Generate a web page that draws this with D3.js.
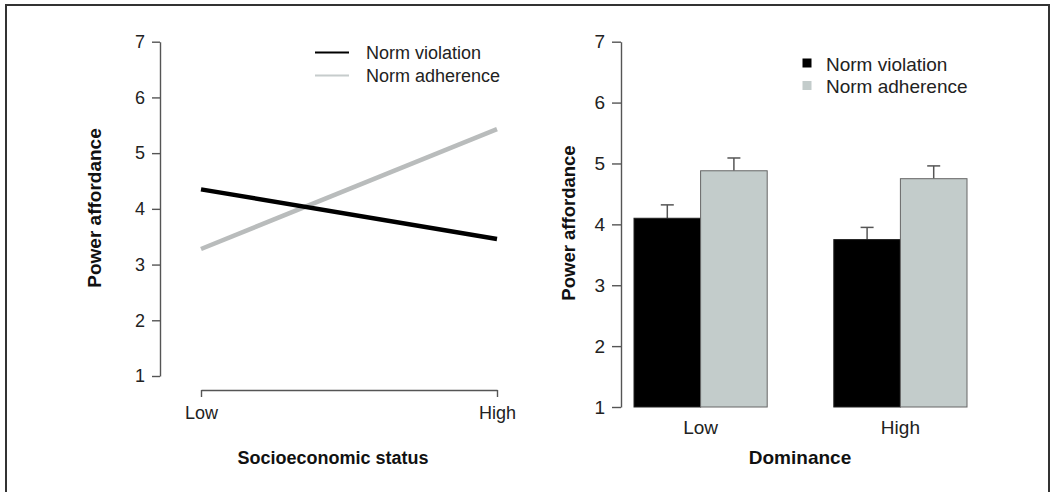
<!DOCTYPE html>
<html>
<head>
<meta charset="utf-8">
<script src="https://cdn.jsdelivr.net/npm/d3@7"></script>
<style>
  html, body { margin: 0; padding: 0; background: #fff; }
  svg { display: block; font-family: "Liberation Sans", Arial, Helvetica, sans-serif; }
</style>
</head>
<body>
<svg id="chart" width="1050" height="492"></svg>
<script>
// ---- data ----
const series = ["Norm violation", "Norm adherence"];
const sesLevels = ["Low", "High"];
const lineViolation = [4.35, 3.46];
const lineAdherence = [3.28, 5.43];
const domLevels = ["Low", "High"];
const barViolation = [4.10, 3.75];
const barAdherence = [4.88, 4.75];
const seViolation = [0.22, 0.20];
const seAdherence = [0.21, 0.21];
const yTicks = [1, 2, 3, 4, 5, 6, 7];
const yTitle = "Power affordance";
const xTitleLeft = "Socioeconomic status";
const xTitleRight = "Dominance";

const svg = d3.select("#chart");
const axisCol = "#555";

// frame
svg.append("rect").attr("x", 6).attr("y", 5).attr("width", 1043).attr("height", 500)
  .attr("fill", "none").attr("stroke", "#333").attr("stroke-width", 2);

function styleAxis(g, fs) {
  g.selectAll("path.domain").attr("stroke", axisCol).attr("stroke-width", 1.4);
  g.selectAll(".tick line").attr("stroke", axisCol).attr("stroke-width", 1.4);
  g.selectAll(".tick text").attr("fill", "#222").attr("font-size", fs)
    .attr("font-family", "Liberation Sans, Arial, sans-serif");
}

// ================= LEFT PANEL =================
const yL = d3.scaleLinear().domain([1, 7]).range([376, 41.7]);
const xL = d3.scalePoint().domain(sesLevels).range([201, 497]);

const gyL = svg.append("g").attr("transform", "translate(160,0)")
  .call(d3.axisLeft(yL).tickValues(yTicks).tickSize(8).tickSizeOuter(0).tickPadding(7).tickFormat(d3.format("d")));
styleAxis(gyL, 18);

const gxL = svg.append("g").attr("transform", "translate(0,390)")
  .call(d3.axisBottom(xL).tickSize(7).tickSizeOuter(0).tickPadding(9));
styleAxis(gxL, 18);
gxL.selectAll(".tick text").attr("dy", "0.71em");

const lineGen = d3.line().x((d, i) => xL(sesLevels[i])).y(d => yL(d));
svg.append("path").datum(lineAdherence).attr("d", lineGen)
  .attr("fill", "none").attr("stroke", "#b9bcbc").attr("stroke-width", 4.5);
svg.append("path").datum(lineViolation).attr("d", lineGen)
  .attr("fill", "none").attr("stroke", "#000").attr("stroke-width", 4.5);

// legend left
const legL = svg.append("g");
[["#000", 2.2], ["#c6cccc", 2.2]].forEach((c, i) => {
  const yy = 52.5 + i * 23;
  legL.append("line").attr("x1", 315).attr("x2", 349).attr("y1", yy).attr("y2", yy)
    .attr("stroke", c[0]).attr("stroke-width", c[1]);
  legL.append("text").attr("x", 366).attr("y", yy).attr("dy", "0.35em")
    .attr("font-size", 18).attr("fill", "#222").text(series[i]);
});

svg.append("text").attr("transform", "translate(101,208) rotate(-90)")
  .attr("text-anchor", "middle").attr("font-size", 19).attr("font-weight", "bold")
  .attr("fill", "#111").text(yTitle);
svg.append("text").attr("x", 333).attr("y", 464).attr("text-anchor", "middle")
  .attr("font-size", 18).attr("font-weight", "bold").attr("fill", "#111").text(xTitleLeft);

// ================= RIGHT PANEL =================
const yR = d3.scaleLinear().domain([1, 7]).range([407, 41.7]);
const x0 = d3.scaleBand().domain(domLevels).range([634, 967]).paddingInner(1 / 3).paddingOuter(0);
const x1 = d3.scaleBand().domain(series).range([0, x0.bandwidth()]).padding(0);

const gyR = svg.append("g").attr("transform", "translate(621,0)")
  .call(d3.axisLeft(yR).tickValues(yTicks).tickSize(9).tickSizeOuter(0).tickPadding(7).tickFormat(d3.format("d")));
styleAxis(gyR, 19);

const gxR = svg.append("g").attr("transform", "translate(0,407)")
  .call(d3.axisBottom(x0).tickSize(0).tickPadding(14));
gxR.select("path.domain").remove();
styleAxis(gxR, 19);
gxR.selectAll(".tick text").attr("dy", "0.71em");

const barData = [];
domLevels.forEach((g, gi) => {
  barData.push({ g, s: series[0], v: barViolation[gi], se: seViolation[gi], fill: "#000", stroke: "#222" });
  barData.push({ g, s: series[1], v: barAdherence[gi], se: seAdherence[gi], fill: "#c3cccb", stroke: "#666" });
});

// error bars (upper only)
const eb = svg.append("g");
barData.forEach(d => {
  const cx = x0(d.g) + x1(d.s) + x1.bandwidth() / 2;
  eb.append("line").attr("x1", cx).attr("x2", cx).attr("y1", yR(d.v)).attr("y2", yR(d.v + d.se))
    .attr("stroke", "#555").attr("stroke-width", 1.5);
  eb.append("line").attr("x1", cx - 6.5).attr("x2", cx + 6.5).attr("y1", yR(d.v + d.se)).attr("y2", yR(d.v + d.se))
    .attr("stroke", "#555").attr("stroke-width", 1.5);
});

svg.append("g").selectAll("rect").data(barData).join("rect")
  .attr("x", d => x0(d.g) + x1(d.s))
  .attr("y", d => yR(d.v))
  .attr("width", x1.bandwidth())
  .attr("height", d => yR(1) - yR(d.v))
  .attr("fill", d => d.fill)
  .attr("stroke", d => d.stroke)
  .attr("stroke-width", 1);

// legend right
const legR = svg.append("g");
["#000", "#c3cccb"].forEach((c, i) => {
  const yy = 64 + i * 22.5;
  legR.append("rect").attr("x", 802.5).attr("y", yy - 5.5).attr("width", 9).attr("height", 9)
    .attr("fill", c);
  legR.append("text").attr("x", 826).attr("y", yy).attr("dy", "0.35em")
    .attr("font-size", 19).attr("fill", "#222").text(series[i]);
});

svg.append("text").attr("transform", "translate(575,223) rotate(-90)")
  .attr("text-anchor", "middle").attr("font-size", 18.5).attr("font-weight", "bold")
  .attr("fill", "#111").text(yTitle);
svg.append("text").attr("x", 800).attr("y", 464).attr("text-anchor", "middle")
  .attr("font-size", 19).attr("font-weight", "bold").attr("fill", "#111").text(xTitleRight);
</script>
</body>
</html>
